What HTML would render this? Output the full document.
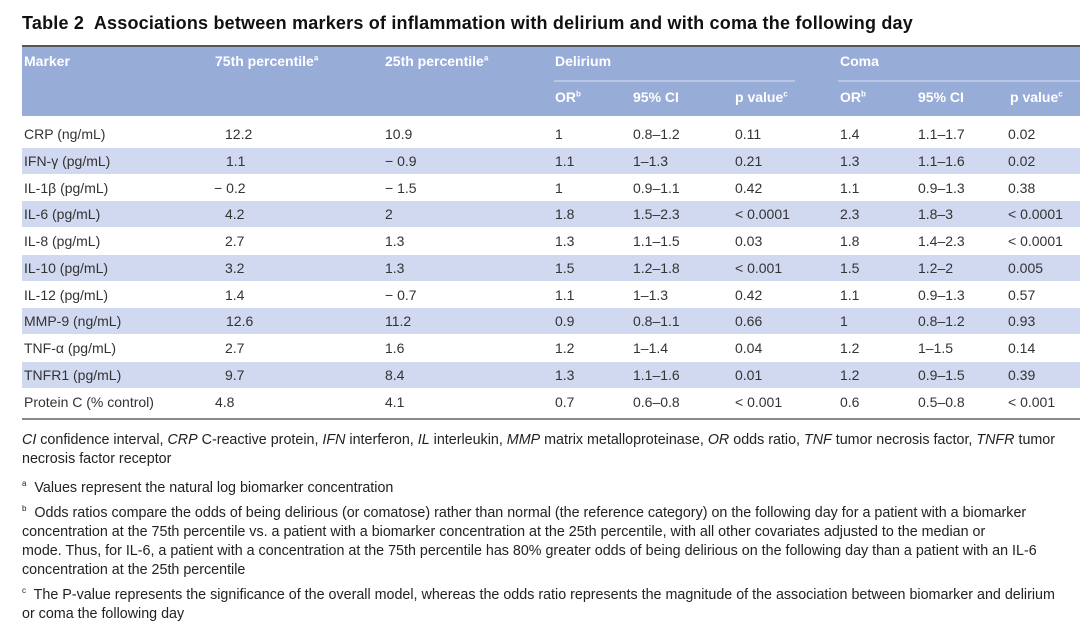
<!DOCTYPE html>
<html><head><meta charset="utf-8"><style>
body{margin:0;width:1080px;height:621px;background:#fff;font-family:"Liberation Sans","DejaVu Sans",sans-serif;color:#222;position:relative;overflow:hidden}
.a{position:absolute;white-space:nowrap}
.t{font-size:18px;font-weight:bold;color:#111;left:22px;top:13px;letter-spacing:0.2px}
.h{color:#fff;font-weight:bold;font-size:14px}
.c{font-size:14px;color:#333}
sup{font-size:8px}
.f{font-size:14.3px;color:#222;left:22px;line-height:19px;letter-spacing:0px}
</style></head><body>
<div class="a t">Table 2&nbsp; Associations between markers of inflammation with delirium and with coma the following day</div>
<div class="a" style="left:22px;top:45px;width:1058px;height:2px;background:#555"></div>
<div class="a" style="left:22px;top:47px;width:1058px;height:69px;background:#98acd8"></div>
<div class="a" style="left:554px;top:80px;width:241px;height:2px;background:#b8c6e6"></div>
<div class="a" style="left:838px;top:80px;width:242px;height:2px;background:#b8c6e6"></div>
<div class="a h" style="left:24px;top:53px">Marker</div>
<div class="a h" style="left:215px;top:53px">75th percentile<sup>a</sup></div>
<div class="a h" style="left:385px;top:53px">25th percentile<sup>a</sup></div>
<div class="a h" style="left:555px;top:53px">Delirium</div>
<div class="a h" style="left:840px;top:53px">Coma</div>
<div class="a h" style="left:555px;top:89px">OR<sup>b</sup></div>
<div class="a h" style="left:633px;top:89px">95% CI</div>
<div class="a h" style="left:735px;top:89px">p value<sup>c</sup></div>
<div class="a h" style="left:840px;top:89px">OR<sup>b</sup></div>
<div class="a h" style="left:918px;top:89px">95% CI</div>
<div class="a h" style="left:1010px;top:89px">p value<sup>c</sup></div>
<div id="rows"></div>
<div class="a" style="left:22px;top:418px;width:1058px;height:2px;background:#8a8a8a"></div>
<div class="a f" style="top:431px"><i>CI</i> confidence interval, <i>CRP</i> C-reactive protein, <i>IFN</i> interferon, <i>IL</i> interleukin, <i>MMP</i> matrix metalloproteinase, <i>OR</i> odds ratio, <i>TNF</i> tumor necrosis factor, <i>TNFR</i> tumor<br>necrosis factor receptor</div>
<div class="a f" style="top:474px"><sup>a</sup>&nbsp; Values represent the natural log biomarker concentration</div>
<div class="a f" style="top:499px"><sup>b</sup>&nbsp; Odds ratios compare the odds of being delirious (or comatose) rather than normal (the reference category) on the following day for a patient with a biomarker<br>concentration at the 75th percentile vs. a patient with a biomarker concentration at the 25th percentile, with all other covariates adjusted to the median or<br>mode. Thus, for IL-6, a patient with a concentration at the 75th percentile has 80% greater odds of being delirious on the following day than a patient with an IL-6<br>concentration at the 25th percentile</div>
<div class="a f" style="top:581px"><sup>c</sup>&nbsp; The P-value represents the significance of the overall model, whereas the odds ratio represents the magnitude of the association between biomarker and delirium<br>or coma the following day</div>
<script>
var d=[["CRP (ng/mL)","12.2","10.9","1","0.8–1.2","0.11","1.4","1.1–1.7","0.02"],
["IFN-γ (pg/mL)","1.1","− 0.9","1.1","1–1.3","0.21","1.3","1.1–1.6","0.02"],
["IL-1β (pg/mL)","− 0.2","− 1.5","1","0.9–1.1","0.42","1.1","0.9–1.3","0.38"],
["IL-6 (pg/mL)","4.2","2","1.8","1.5–2.3","< 0.0001","2.3","1.8–3","< 0.0001"],
["IL-8 (pg/mL)","2.7","1.3","1.3","1.1–1.5","0.03","1.8","1.4–2.3","< 0.0001"],
["IL-10 (pg/mL)","3.2","1.3","1.5","1.2–1.8","< 0.001","1.5","1.2–2","0.005"],
["IL-12 (pg/mL)","1.4","− 0.7","1.1","1–1.3","0.42","1.1","0.9–1.3","0.57"],
["MMP-9 (ng/mL)","12.6","11.2","0.9","0.8–1.1","0.66","1","0.8–1.2","0.93"],
["TNF-α (pg/mL)","2.7","1.6","1.2","1–1.4","0.04","1.2","1–1.5","0.14"],
["TNFR1 (pg/mL)","9.7","8.4","1.3","1.1–1.6","0.01","1.2","0.9–1.5","0.39"],
["Protein C (% control)","4.8","4.1","0.7","0.6–0.8","< 0.001","0.6","0.5–0.8","< 0.001"]];
var xs=[24,0,385,555,633,735,840,918,1008],h="";
var x1=[225,226,215,225,225,225,225,226,225,225,215];
d.forEach(function(r,i){var top=121+i*26.75;
if(i%2==1)h+='<div class="a" style="left:22px;top:'+top+'px;width:1058px;height:26px;background:#d0d9f0"></div>';
r.forEach(function(v,j){var x=j==1?x1[i]:xs[j];if(j==1&&v[0]=="−")x=214;
h+='<div class="a c" style="left:'+x+'px;top:'+(top+5)+'px">'+v+'</div>';});});
document.getElementById("rows").innerHTML=h;
</script>
</body></html>
